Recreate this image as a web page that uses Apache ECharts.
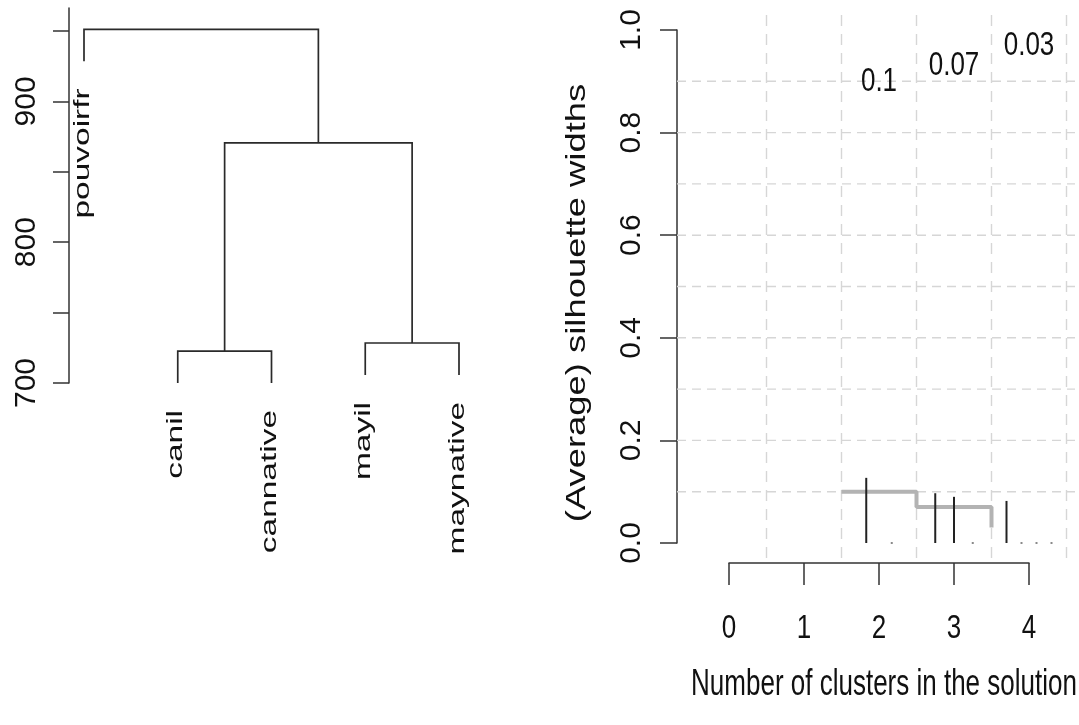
<!DOCTYPE html>
<html>
<head>
<meta charset="utf-8">
<script src="https://cdn.jsdelivr.net/npm/echarts@6/dist/echarts.min.js"></script>
<style>
html,body{margin:0;padding:0;background:#fff;}
#c{width:1079px;height:725px;}
</style>
</head>
<body>
<div id="c"></div>
<script>
// ---------- Dendrogram data ----------
const leafNames = ['pouvoirfr', 'canil', 'cannative', 'mayil', 'maynative'];
const leafEnds = [928.4, 700, 700, 705.7, 705.7];      // heights where leaf branches end
const mergeA = [-2, -4, 1, -1];                          // negative = leaf, positive = earlier merge
const mergeB = [-3, -5, 2, 3];
const mergeHeights = [722.7, 728.4, 870.5, 951.1];
const dendroTicks = [700, 750, 800, 850, 900, 950];
const dendroLabels = [700, 800, 900];

// ---------- Silhouette data ----------
const nClusters = [2, 3, 4];
const avgWidth = [0.1, 0.07, 0.03];
const avgLabels = ['0.1', '0.07', '0.03'];
const avgLabelY = [0.9, 0.93, 0.97];
const stepX = [1.5, 2.5, 3.5];
const clusterX = [1.83, 2.17, 2.75, 3.0, 3.25, 3.7, 3.9, 4.1, 4.3];
const clusterW = [0.127, 0, 0.097, 0.09, 0, 0.082, 0, 0, 0];
const silTicks = [0, 0.2, 0.4, 0.6, 0.8, 1.0];
const silGridY = [0.1, 0.2, 0.3, 0.4, 0.5, 0.6, 0.7, 0.8, 0.9];
const silGridX = [0.5, 1.5, 2.5, 3.5, 4.5];
const kTicks = [0, 1, 2, 3, 4];

// ---------- styling / layout ----------
const FONT = "'Liberation Sans', Arial, Helvetica, sans-serif";
const AX = '#333';
const TXT = '#111';
const R_XMIN = -0.6933, R_XMAX = 4.6133;
const R_VTOP = 1.029, R_VBOT = -0.039;

// build dendrogram node positions
const nodeX = [], nodeH = [];
function child(c) {
  if (c < 0) return [-c, leafEnds[-c - 1]];
  return [nodeX[c - 1], nodeH[c - 1]];
}
const segments = [];
for (let m = 0; m < mergeHeights.length; m++) {
  const a = child(mergeA[m]), b = child(mergeB[m]);
  nodeX.push((a[0] + b[0]) / 2);
  nodeH.push(mergeHeights[m]);
  segments.push([a[0], a[1], b[0], b[1], mergeHeights[m]]);
}

const chart = echarts.init(document.getElementById('c'), null, {renderer: 'canvas'});
const axLine = {color: AX, width: 1.5};

const option = {
  animation: false,
  backgroundColor: '#fff',
  grid: [
    {left: 69, top: 8, width: 408.75, height: 375, containLabel: false, outerBoundsMode: 'none'},
    {left: 677, top: 30, width: 398, height: 513, containLabel: false, outerBoundsMode: 'none'},
    {left: 729, top: 463, width: 300, height: 100, containLabel: false, outerBoundsMode: 'none'}
  ],
  xAxis: [
    {gridIndex: 0, type: 'value', min: 0.84, max: 5.2, show: false},
    {gridIndex: 1, type: 'value', min: R_XMIN, max: R_XMAX, show: false},
    {gridIndex: 2, type: 'value', min: 0, max: 4, interval: 1, position: 'bottom',
      axisLine: {show: true, onZero: false, lineStyle: axLine},
      axisTick: {show: true, inside: false, length: 22, lineStyle: axLine},
      axisLabel: {show: false}, splitLine: {show: false}}
  ],
  yAxis: [
    {gridIndex: 0, type: 'value', min: 700, max: 966.3, position: 'left',
      axisLine: {show: true, onZero: false, lineStyle: axLine},
      axisTick: {show: true, inside: false, length: 16, customValues: dendroTicks, lineStyle: axLine},
      axisLabel: {show: true, customValues: dendroLabels, rotate: 90, margin: 27, fontSize: 30,
        fontFamily: FONT, color: TXT, showMinLabel: true, showMaxLabel: true},
      splitLine: {show: false}},
    {gridIndex: 1, type: 'value', min: 0, max: 1, position: 'left',
      axisLine: {show: true, onZero: false, lineStyle: axLine},
      axisTick: {show: true, inside: false, length: 17, customValues: silTicks, lineStyle: axLine},
      axisLabel: {show: true, customValues: silTicks, rotate: 90, margin: 30, fontSize: 30,
        fontFamily: FONT, color: TXT, showMinLabel: true, showMaxLabel: true,
        formatter: v => Number(v).toFixed(1)},
      splitLine: {show: false}},
    {gridIndex: 2, type: 'value', min: 0, max: 1, show: false}
  ],
  series: [
    // horizontal grid
    {type: 'custom', xAxisIndex: 1, yAxisIndex: 1, silent: true, z: 1,
      data: silGridY.map(v => [v]),
      renderItem: (params, api) => {
        const y = api.value(0);
        const p1 = api.coord([R_XMIN, y]), p2 = api.coord([R_XMAX, y]);
        return {type: 'line', shape: {x1: p1[0], y1: p1[1], x2: p2[0], y2: p2[1]},
          style: {stroke: '#d6d6d6', lineWidth: 1.4, lineDash: [9, 6]}};
      }},
    // vertical grid
    {type: 'custom', xAxisIndex: 1, yAxisIndex: 1, silent: true, z: 1,
      data: silGridX.map(v => [v]),
      renderItem: (params, api) => {
        const x = api.value(0);
        const p1 = api.coord([x, R_VTOP]), p2 = api.coord([x, R_VBOT]);
        return {type: 'line', shape: {x1: p1[0], y1: p1[1], x2: p2[0], y2: p2[1]},
          style: {stroke: '#d6d6d6', lineWidth: 1.4, lineDash: [11, 8]}};
      }},
    // average silhouette step line
    {type: 'line', xAxisIndex: 1, yAxisIndex: 1, step: 'end', silent: true, z: 3,
      showSymbol: false, symbol: 'none',
      data: stepX.map((x, i) => [x, avgWidth[i]]),
      lineStyle: {color: '#b3b3b3', width: 4, cap: 'butt'}},
    // cluster silhouette bars
    {type: 'custom', xAxisIndex: 1, yAxisIndex: 1, silent: true, z: 4,
      data: clusterX.map((x, i) => [x, clusterW[i]]),
      renderItem: (params, api) => {
        const x = api.value(0), w = api.value(1);
        const p0 = api.coord([x, 0]);
        if (w > 0) {
          const p1 = api.coord([x, w]);
          return {type: 'line', shape: {x1: p0[0], y1: p0[1], x2: p1[0], y2: p1[1]},
            style: {stroke: '#222', lineWidth: 2}};
        }
        return {type: 'rect', shape: {x: p0[0] - 1, y: p0[1] - 1, width: 2, height: 2},
          style: {fill: '#8a8a8a'}};
      }},
    // average width annotations
    {type: 'custom', xAxisIndex: 1, yAxisIndex: 1, silent: true, z: 5,
      data: nClusters.map((k, i) => [k, avgLabelY[i]]),
      renderItem: (params, api) => {
        const p = api.coord([api.value(0), api.value(1)]);
        return {type: 'text', x: p[0], y: p[1], scaleY: 1.3,
          style: {text: avgLabels[params.dataIndex], fontSize: 26, fontFamily: FONT, fill: TXT,
            align: 'center', verticalAlign: 'middle'}};
      }},
    // x tick labels (number of clusters axis)
    {type: 'custom', xAxisIndex: 2, yAxisIndex: 2, silent: true, z: 5,
      data: kTicks.map(v => [v, 0]),
      renderItem: (params, api) => {
        const p = api.coord([api.value(0), api.value(1)]);
        return {type: 'text', x: p[0], y: p[1] + 66, scaleY: 1.25,
          style: {text: String(kTicks[params.dataIndex]), fontSize: 26, fontFamily: FONT, fill: TXT,
            align: 'center', verticalAlign: 'middle'}};
      }},
    // dendrogram branches
    {type: 'custom', xAxisIndex: 0, yAxisIndex: 0, silent: true, z: 3,
      data: segments,
      renderItem: (params, api) => {
        const xa = api.value(0), ya = api.value(1), xb = api.value(2), yb = api.value(3), h = api.value(4);
        const pts = [api.coord([xa, ya]), api.coord([xa, h]), api.coord([xb, h]), api.coord([xb, yb])];
        return {type: 'polyline', shape: {points: pts},
          style: {stroke: '#2a2a2a', lineWidth: 1.7, fill: null}};
      }},
    // leaf labels
    {type: 'custom', xAxisIndex: 0, yAxisIndex: 0, silent: true, z: 4,
      data: leafNames.map((n, i) => [i + 1, leafEnds[i]]),
      renderItem: (params, api) => {
        const p = api.coord([api.value(0), api.value(1)]);
        return {type: 'text', x: p[0] - 1.5, y: p[1] + 27, rotation: Math.PI / 2, scaleX: 1.52,
          style: {text: leafNames[params.dataIndex], fontSize: 22, fontFamily: FONT, fill: TXT,
            align: 'right', verticalAlign: 'middle'}};
      }}
  ],
  graphic: [
    {type: 'text', x: 577, y: 303, rotation: Math.PI / 2, scaleX: 1.3, silent: true,
      style: {text: '(Average) silhouette widths', fontSize: 28, fontFamily: FONT, fill: TXT,
        align: 'center', verticalAlign: 'middle'}},
    {type: 'text', x: 884, y: 685, scaleY: 1.42, silent: true,
      style: {text: 'Number of clusters in the solution', fontSize: 26, fontFamily: FONT, fill: TXT,
        align: 'center', verticalAlign: 'middle'}}
  ]
};
chart.setOption(option);
</script>
</body>
</html>
